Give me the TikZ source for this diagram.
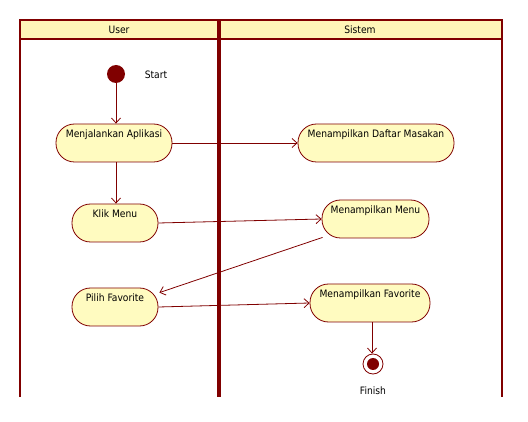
\documentclass[tikz,border=0pt]{standalone}
\usepackage{fontspec}
\setmainfont{DejaVu Sans Condensed}
\usetikzlibrary{arrows.meta}
\definecolor{lanered}{RGB}{128,0,0}
\definecolor{headfill}{RGB}{255,246,184}
\definecolor{actfill}{RGB}{255,251,192}
\tikzset{
  txt/.style={font=\fontsize{10.2}{12}\selectfont, text=black},
  act/.style={txt, draw=lanered, fill=actfill, line width=0.8pt, rounded corners=18.5pt,
    minimum height=38pt, text height=8pt, text depth=18pt, inner ysep=6pt, inner xsep=4pt},
  flow/.style={draw=lanered, line width=0.8pt, -{Straight Barb[length=5pt,width=9pt]}},
  lane/.style={draw=lanered, line width=2pt},
}
\begin{document}
\begin{tikzpicture}[x=1pt,y=-1pt]
\useasboundingbox (0,0) rectangle (528,422);
% header band
\fill[headfill] (19.5,20) rectangle (502,39.5);
\draw[lane] (19.5,397) -- (19.5,20) -- (502,20) -- (502,397);
\draw[lane] (19.5,39.5) -- (502,39.5);
\draw[draw=lanered, line width=4pt] (218.5,20) -- (218.5,397);
\node[txt] (huser) at (119,30) {User};
\node[txt] (hsis) at (360,30) {Sistem};
% start
\node[circle, fill=lanered, minimum size=18pt, inner sep=0pt] (start) at (116,74) {};
\node[txt] (starttxt) at (156,75) {Start};
% activities
\node[act, minimum width=116pt] (jalan) at (114,143) {Menjalankan Aplikasi};
\node[act, minimum width=156pt] (daftar) at (376,143) {Menampilkan Daftar Masakan};
\node[act, minimum width=86pt] (klik) at (115,223) {Klik Menu};
\node[act, minimum width=107pt] (menu) at (375.5,219) {Menampilkan Menu};
\node[act, minimum width=86pt] (pilih) at (115,307) {Pilih Favorite};
\node[act, minimum width=120pt] (fav) at (370,303) {Menampilkan Favorite};
% finish
\node[circle, draw=lanered, fill=white, line width=0.8pt, minimum size=20pt, inner sep=0pt] (finish) at (373,364) {};
\node[circle, fill=lanered, minimum size=12pt, inner sep=0pt] (finishdot) at (finish.center) {};
\node[txt] (finishtxt) at (373,391) {Finish};
% flows
\draw[flow] (start.south) -- (start.south |- jalan.north);
\draw[flow] (jalan.east) -- (daftar.west);
\draw[flow] (jalan.south -| start.south) -- (klik.north -| start.south);
\draw[flow] (klik.east) -- (menu.west);
\draw[flow] ([xshift=1pt,yshift=1pt]menu.south west) -- ([xshift=1pt,yshift=-5pt]pilih.north east);
\draw[flow] (pilih.east) -- (fav.west);
\draw[flow] ([xshift=2pt]fav.south) -- ([xshift=2pt]fav.south |- finish.north);
\end{tikzpicture}
\end{document}
